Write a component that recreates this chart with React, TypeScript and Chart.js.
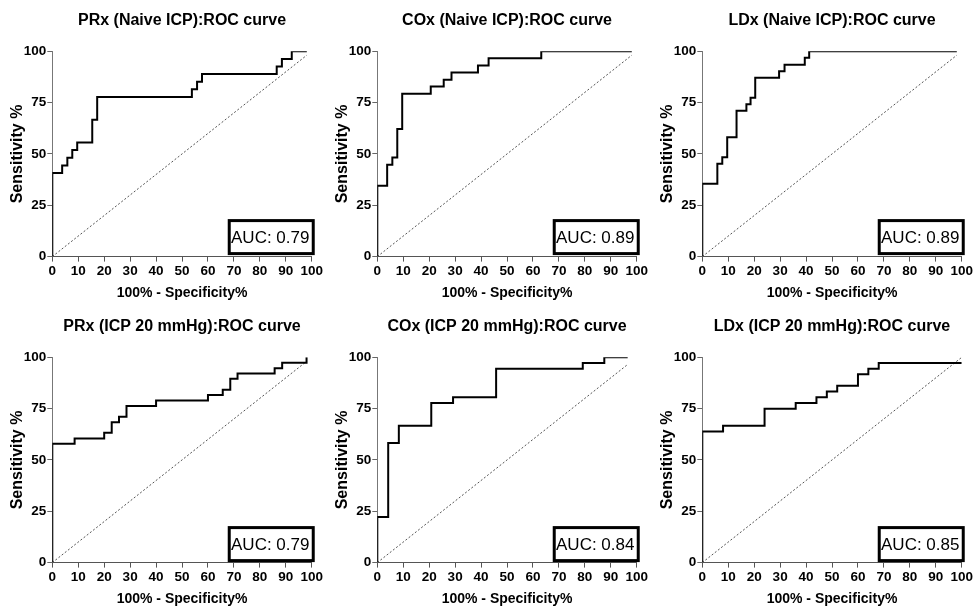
import React, { useEffect, useRef } from "react";
import { Chart, registerables } from "chart.js";

Chart.register(...registerables);

// ---- data ----
const panelTitles = [
  "PRx (Naive ICP):ROC curve",
  "COx (Naive ICP):ROC curve",
  "LDx (Naive ICP):ROC curve",
  "PRx (ICP 20 mmHg):ROC curve",
  "COx (ICP 20 mmHg):ROC curve",
  "LDx (ICP 20 mmHg):ROC curve",
];
const aucLabels = ["AUC: 0.79", "AUC: 0.89", "AUC: 0.89", "AUC: 0.79", "AUC: 0.84", "AUC: 0.85"];
const xAxisTitle = "100% - Specificity%";
const yAxisTitle = "Sensitivity %";

const prxNaiveFpr = [0, 0, 3.8, 5.8, 7.7, 9.6, 15.4, 17.3, 53.8, 55.8, 57.7, 86.5, 88.5, 92.3, 98.1];
const prxNaiveSens = [0, 40.7, 44.4, 48.1, 51.9, 55.6, 66.7, 77.8, 81.5, 85.2, 88.9, 92.6, 96.3, 100, 100];

const coxNaiveFpr = [0, 0, 3.8, 5.8, 7.7, 9.6, 20.6, 25.6, 28.6, 38.8, 42.9, 63.2, 98.1];
const coxNaiveSens = [0, 34.5, 44.8, 48.3, 62.1, 79.3, 82.8, 86.2, 89.7, 93.1, 96.6, 100, 100];

const ldxNaiveFpr = [0, 0, 5.8, 7.7, 9.6, 13.2, 17, 18.6, 20.4, 29.6, 31.7, 39.5, 41.2, 98.1];
const ldxNaiveSens = [0, 35.5, 45.2, 48.4, 58.1, 71, 74.2, 77.4, 87.1, 90.3, 93.5, 96.8, 100, 100];

const prx20Fpr = [0, 0, 8.6, 20, 22.9, 25.7, 28.6, 40, 60, 65.7, 68.6, 71.4, 85.7, 88.6, 98];
const prx20Sens = [0, 57.9, 60.5, 63.2, 68.4, 71.1, 76.3, 78.9, 81.6, 84.2, 89.5, 92.1, 94.7, 97.4, 100];

const cox20Fpr = [0, 0, 4.2, 8.3, 20.8, 29.2, 45.8, 79.2, 87.5, 96.5];
const cox20Sens = [0, 22.2, 58.3, 66.7, 77.8, 80.6, 94.4, 97.2, 100, 100];

const ldx20Fpr = [0, 0, 8, 24, 36, 44, 48, 52, 60, 64, 68, 100];
const ldx20Sens = [0, 63.9, 66.7, 75, 77.8, 80.6, 83.3, 86.1, 91.7, 94.4, 97.2, 97.2];

const diagonalEnds = [98.1, 98.1, 98.1, 97.5, 96.2, 100];

const fprSeries = [prxNaiveFpr, coxNaiveFpr, ldxNaiveFpr, prx20Fpr, cox20Fpr, ldx20Fpr];
const sensSeries = [prxNaiveSens, coxNaiveSens, ldxNaiveSens, prx20Sens, cox20Sens, ldx20Sens];

// ---- layout ----
const FONT = '"Liberation Sans", Arial, Helvetica, sans-serif';
const PANEL_W = 325;
const PANEL_H = 307;
const panelPos = [
  { left: 0, top: 0 },
  { left: 325, top: 0 },
  { left: 650, top: 0 },
  { left: 0, top: 306 },
  { left: 325, top: 306 },
  { left: 650, top: 306 },
];

function makeAucPlugin(text: string, bottomOffset: number) {
  return {
    id: "aucBox",
    afterDraw(chart: any) {
      const { ctx, chartArea: a } = chart;
      const w = 84;
      const h = 33;
      const right = a.right + 1.5;
      const bottom = a.bottom - bottomOffset;
      const x = right - w;
      const y = bottom - h;
      ctx.save();
      ctx.fillStyle = "#ffffff";
      ctx.fillRect(x, y, w, h);
      ctx.lineWidth = 3;
      ctx.strokeStyle = "#000000";
      ctx.strokeRect(x, y, w, h);
      ctx.fillStyle = "#000000";
      ctx.font = `17px ${FONT}`;
      ctx.textAlign = "center";
      ctx.textBaseline = "middle";
      ctx.fillText(text, x + w / 2 - 1, y + h / 2 + 1);
      ctx.restore();
    },
  };
}

function RocPanel({ index }: { index: number }) {
  const ref = useRef<HTMLCanvasElement | null>(null);

  useEffect(() => {
    if (!ref.current) return;
    const fpr = fprSeries[index];
    const sens = sensSeries[index];
    const d = diagonalEnds[index];
    const tickFont = { family: FONT, size: 13.5, weight: "bold" as const, lineHeight: 1.2 };
    const chart = new Chart(ref.current, {
      type: "scatter",
      data: {
        datasets: [
          {
            data: fpr.map((x, i) => ({ x, y: sens[i] })),
            showLine: true,
            stepped: "before",
            borderColor: "#000000",
            borderWidth: 2,
            borderJoinStyle: "miter",
            pointRadius: 0,
            fill: false,
          } as any,
          {
            data: [
              { x: 0, y: 0 },
              { x: d, y: d },
            ],
            showLine: true,
            borderColor: "#555555",
            borderWidth: 1,
            borderDash: [2, 2],
            pointRadius: 0,
            fill: false,
          } as any,
        ],
      },
      options: {
        responsive: false,
        animation: false,
        events: [],
        layout: { padding: { left: 0, right: 12.7, top: 0, bottom: 0 } },
        plugins: {
          legend: { display: false },
          tooltip: { enabled: false },
          title: {
            display: true,
            text: panelTitles[index],
            fullSize: false,
            color: "#000000",
            font: { family: FONT, size: 16, weight: "bold", lineHeight: 1.2 },
            padding: { top: 11.4, bottom: 20.7 },
          },
        },
        scales: {
          x: {
            type: "linear",
            min: 0,
            max: 100,
            ticks: {
              stepSize: 10,
              color: "#000000",
              font: tickFont,
              padding: 2,
              maxRotation: 0,
              autoSkip: false,
            },
            grid: {
              drawOnChartArea: false,
              drawTicks: true,
              tickLength: 5,
              tickColor: "#555555",
              color: "#555555",
            },
            border: { display: true, color: "#555555", width: 1 },
            title: {
              display: true,
              text: xAxisTitle,
              color: "#000000",
              font: { family: FONT, size: 14, weight: "bold", lineHeight: 1.2 },
              padding: { top: 0, bottom: 5.5 },
            },
            afterFit: (s: any) => {
              s.height = 50.4;
            },
          },
          y: {
            type: "linear",
            min: 0,
            max: 100,
            ticks: {
              stepSize: 25,
              color: "#000000",
              font: tickFont,
              padding: 1,
            },
            grid: {
              drawOnChartArea: false,
              drawTicks: true,
              tickLength: 5,
              tickColor: "#666666",
              color: "#666666",
            },
            border: { display: true, color: "#777777", width: 1 },
            title: {
              display: true,
              text: yAxisTitle,
              color: "#000000",
              font: { family: FONT, size: 16, weight: "bold", lineHeight: 1.2 },
              padding: { top: 7.6, bottom: 0 },
            },
            afterFit: (s: any) => {
              s.width = 52.3;
            },
          },
        },
      } as any,
      plugins: [makeAucPlugin(aucLabels[index], index < 3 ? 3 : 2)],
    });
    return () => chart.destroy();
  }, [index]);

  const pos = panelPos[index];
  return (
    <div style={{ position: "absolute", left: pos.left, top: pos.top, width: PANEL_W, height: PANEL_H }}>
      <canvas ref={ref} width={PANEL_W} height={PANEL_H} style={{ display: "block" }} />
    </div>
  );
}

export default function App() {
  return (
    <div
      style={{
        position: "absolute",
        left: 0,
        top: 0,
        width: 977,
        height: 614,
        background: "#ffffff",
        overflow: "hidden",
      }}
    >
      {panelTitles.map((_, i) => (
        <RocPanel key={i} index={i} />
      ))}
    </div>
  );
}
